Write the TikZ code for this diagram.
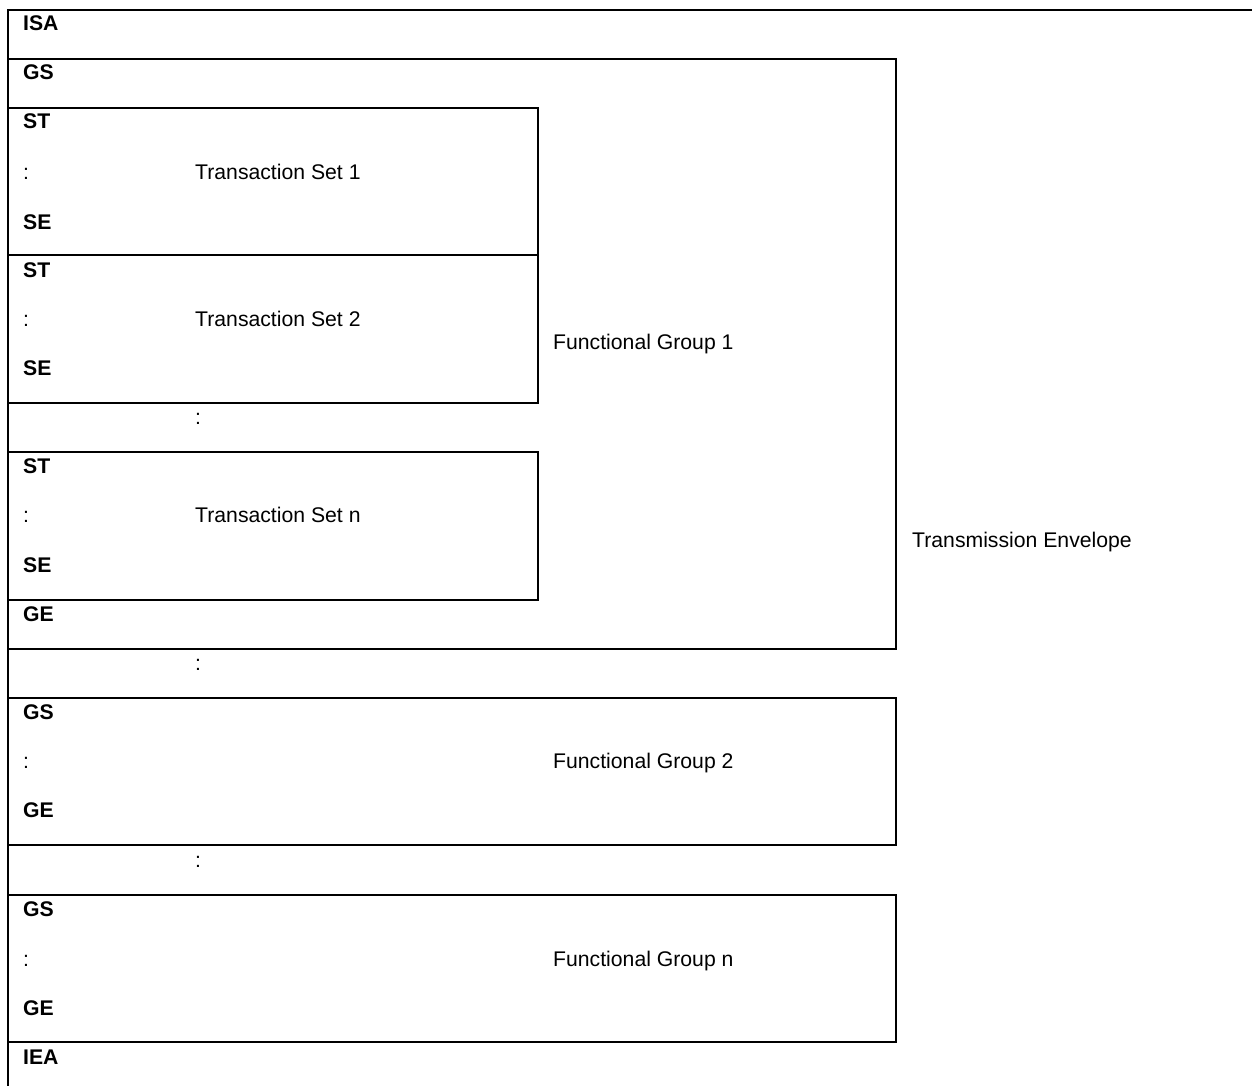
\documentclass[tikz,border=0pt]{standalone}
\usepackage{fontspec}
\setmainfont{Liberation Sans}
\begin{document}
\begin{tikzpicture}[x=1pt,y=-1pt,
  frame/.style={draw=black,line width=1.8pt},
  lbl/.style={anchor=base west,inner sep=0pt,font=\fontsize{21.2}{25}\selectfont\bfseries},
  txt/.style={anchor=base west,inner sep=0pt,font=\fontsize{21.2}{25}\selectfont}]
\useasboundingbox (0,0) rectangle (1252,1086);
% envelope
\draw[frame] (1252,10) -- (8,10) -- (8,1086);
% functional group 1
\draw[frame] (8,59) rectangle (896,649);
% transaction sets
\draw[frame] (8,108) rectangle (538,255);
\draw[frame] (8,255) rectangle (538,403);
\draw[frame] (8,452) rectangle (538,600);
% functional groups 2 and n
\draw[frame] (8,698) rectangle (896,845);
\draw[frame] (8,895) rectangle (896,1042);
% labels
\node[lbl] (isa) at (23,31) {ISA};
\node[lbl] (gs1) at (23,80) {GS};
\node[lbl] (st1) at (23,129) {ST};
\node[txt] (c1) at (23,179) {:};
\node[txt] (ts1) at (195,179) {Transaction Set 1};
\node[lbl] (se1) at (23,229) {SE};
\node[lbl] (st2) at (23,277) {ST};
\node[txt] (c2) at (23,326) {:};
\node[txt] (ts2) at (195,326) {Transaction Set 2};
\node[lbl] (se2) at (23,375) {SE};
\node[txt] (c3) at (195,424) {:};
\node[lbl] (st3) at (23,473) {ST};
\node[txt] (c4) at (23,522) {:};
\node[txt] (ts3) at (195,522) {Transaction Set n};
\node[lbl] (se3) at (23,572) {SE};
\node[lbl] (ge1) at (23,621) {GE};
\node[txt] (fg1) at (553,349) {Functional Group 1};
\node[txt] (te) at (912,547) {Transmission Envelope};
\node[txt] (c5) at (195,670) {:};
\node[lbl] (gs2) at (23,719) {GS};
\node[txt] (c6) at (23,768) {:};
\node[txt] (fg2) at (553,768) {Functional Group 2};
\node[lbl] (ge2) at (23,817) {GE};
\node[txt] (c7) at (195,867) {:};
\node[lbl] (gs3) at (23,916) {GS};
\node[txt] (c8) at (23,966) {:};
\node[txt] (fg3) at (553,966) {Functional Group n};
\node[lbl] (ge3) at (23,1015) {GE};
\node[lbl] (iea) at (23,1064) {IEA};
\end{tikzpicture}
\end{document}
